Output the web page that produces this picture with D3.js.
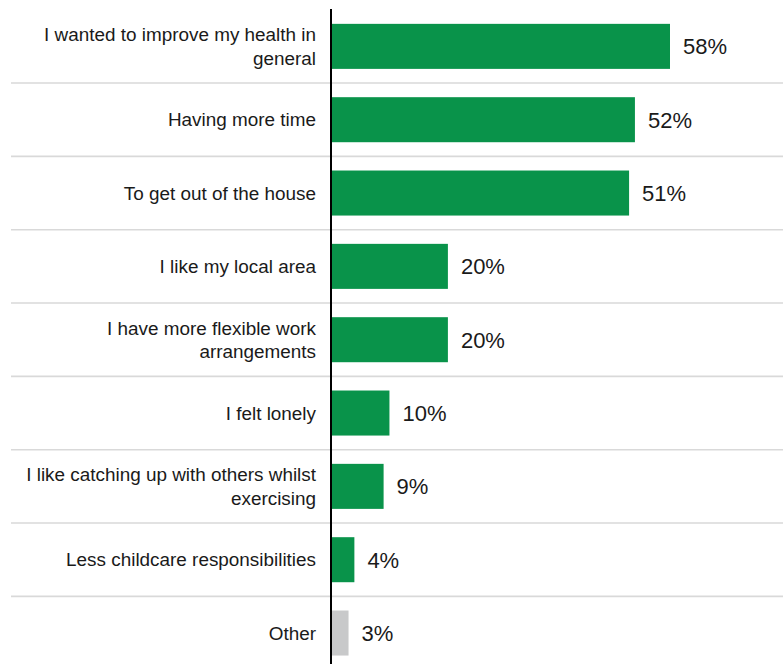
<!DOCTYPE html>
<html>
<head>
<meta charset="utf-8">
<script src="https://cdn.jsdelivr.net/npm/d3@7"></script>
<style>
  html, body { margin: 0; padding: 0; background: #fff; }
  svg { display: block; font-family: "Liberation Sans", Arial, sans-serif; }
</style>
</head>
<body>
<svg id="chart" width="783" height="664"></svg>
<script>
// Reasons for exercising more, share of respondents (%)
const categories = [
  ["I wanted to improve my health in", "general"],
  ["Having more time"],
  ["To get out of the house"],
  ["I like my local area"],
  ["I have more flexible work", "arrangements"],
  ["I felt lonely"],
  ["I like catching up with others whilst", "exercising"],
  ["Less childcare responsibilities"],
  ["Other"]
];
const values = [58, 52, 51, 20, 20, 10, 9, 4, 3];
const valueLabels = ["58%", "52%", "51%", "20%", "20%", "10%", "9%", "4%", "3%"];
const barColors = ["#09934a", "#09934a", "#09934a", "#09934a", "#09934a", "#09934a", "#09934a", "#09934a", "#c8c9ca"];

const svg = d3.select("#chart");
const W = 783, H = 664;
const axisX = 331;

const keys = categories.map((c, i) => i);
const y = d3.scaleBand().domain(keys).range([9.7, 669.7]).paddingInner(0.386).paddingOuter(0.193);
const x = d3.scaleLinear().domain([0, 58]).range([axisX, 670]);

// row separators
svg.append("g").selectAll("line")
  .data(keys.slice(1))
  .join("line")
  .attr("x1", 11).attr("x2", W)
  .attr("y1", d => y(d) - y.step() * y.paddingInner() / 2)
  .attr("y2", d => y(d) - y.step() * y.paddingInner() / 2)
  .attr("stroke", "#d9d9d9").attr("stroke-width", 1.6);

// bars
svg.append("g").selectAll("rect")
  .data(keys)
  .join("rect")
  .attr("x", x(0))
  .attr("y", d => y(d))
  .attr("width", d => x(values[d]) - x(0))
  .attr("height", y.bandwidth())
  .attr("fill", d => barColors[d]);

// value labels
svg.append("g").selectAll("text")
  .data(keys)
  .join("text")
  .attr("x", d => x(values[d]) + 13)
  .attr("y", d => y(d) + y.bandwidth() / 2)
  .attr("dy", "0.36em")
  .attr("font-size", 22)
  .attr("fill", "#1a1a1a")
  .text(d => valueLabels[d]);

// category labels
const lineH = 23.4;
const cat = svg.append("g").selectAll("text")
  .data(keys)
  .join("text")
  .attr("text-anchor", "end")
  .attr("font-size", 18.9)
  .attr("fill", "#1a1a1a");
cat.each(function(d) {
  const lines = categories[d];
  const cy = y(d) + y.bandwidth() / 2;
  const t = d3.select(this);
  lines.forEach((ln, j) => {
    t.append("tspan")
      .attr("x", 316)
      .attr("y", cy + (j - (lines.length - 1) / 2) * lineH)
      .attr("dy", "0.35em")
      .text(ln);
  });
});

// vertical axis line
svg.append("line")
  .attr("x1", axisX).attr("x2", axisX)
  .attr("y1", 9).attr("y2", H)
  .attr("stroke", "#000").attr("stroke-width", 2);
</script>
</body>
</html>
